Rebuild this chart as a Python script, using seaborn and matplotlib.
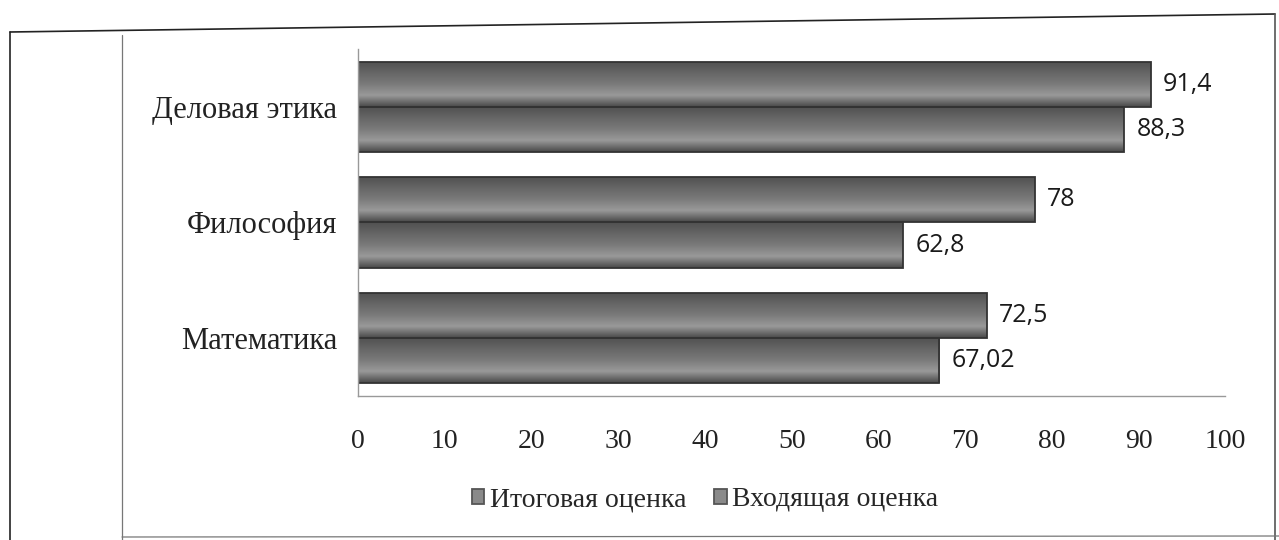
import matplotlib
matplotlib.use("Agg")
import matplotlib.pyplot as plt
import seaborn as sns
import pandas as pd
import numpy as np
from matplotlib.lines import Line2D
from matplotlib.colors import LinearSegmentedColormap

subjects = ["Деловая этика", "Философия", "Математика"]
series = ["Итоговая оценка", "Входящая оценка"]
final_scores = [91.4, 78, 72.5]
entry_scores = [88.3, 62.8, 67.02]
x_ticks = [0, 10, 20, 30, 40, 50, 60, 70, 80, 90, 100]

df = pd.DataFrame({
    "subject": subjects * 2,
    "series": [series[0]] * 3 + [series[1]] * 3,
    "score": final_scores + entry_scores,
})

sns.set_style("white")
plt.rcParams["font.family"] = ["Liberation Serif", "DejaVu Serif"]

fig = plt.figure(figsize=(12.79, 5.4), dpi=100)
ax = fig.add_axes([0.280, 0.267, 0.678, 0.642])

sns.barplot(data=df, y="subject", x="score", hue="series", order=subjects,
            hue_order=series, orient="h", palette=["#6a6a6a", "#707070"],
            edgecolor="#333333", linewidth=1.3, width=0.78, ax=ax)

# cylinder-like shading on each bar, clipped to the bar itself
shade = LinearSegmentedColormap.from_list(
    "shade", ["#4a4a4a", "#9a9a9a", "#7a7a7a", "#666666", "#505050"])
grad = np.linspace(0, 1, 64).reshape(-1, 1)
for bar in list(ax.patches):
    x0, y0 = bar.get_x(), bar.get_y()
    w, h = bar.get_width(), bar.get_height()
    if w <= 0:
        continue
    im = ax.imshow(grad, cmap=shade, aspect="auto", interpolation="bicubic",
                   extent=[x0, x0 + w, y0, y0 + h], origin="upper", zorder=1.5)
    im.set_clip_path(bar)
    bar.set_facecolor("none")
    bar.set_zorder(2)
ax.set_ylim(2.5, -0.5)

# data labels, comma decimals
for cont in ax.containers:
    labels = [f"{v:g}".replace(".", ",") for v in cont.datavalues]
    ax.bar_label(cont, labels=labels, padding=9, fontsize=18,
                 family=["Open Sans", "DejaVu Sans"], color="#1a1a1a")

ax.set_xlim(0, 100)
ax.set_xticks(x_ticks)
ax.set_xticklabels([str(t) for t in x_ticks], fontsize=20, color="#222222")
ax.tick_params(axis="x", length=0, pad=24)
ax.tick_params(axis="y", length=0, pad=15, labelsize=22, labelcolor="#222222")
ax.set_xlabel("")
ax.set_ylabel("")
for s in ["top", "right"]:
    ax.spines[s].set_visible(False)
for s in ["left", "bottom"]:
    ax.spines[s].set_color("#999999")
    ax.spines[s].set_linewidth(1.0)

handles, lbls = ax.get_legend_handles_labels()
leg = ax.legend(handles, lbls, loc="center", bbox_to_anchor=(0.40, -0.30),
                ncol=2, frameon=False, fontsize=20, handlelength=0.45,
                handleheight=0.45, handletextpad=0.2, columnspacing=1.0)
for hnd in leg.legend_handles:
    hnd.set_facecolor("#8a8a8a")
    hnd.set_edgecolor("#555555")

# scanned page frame
W, H = 1279, 540
def fl(x0, y0, x1, y1, lw=1.2, c="#222222"):
    fig.add_artist(Line2D([x0 / W, x1 / W], [1 - y0 / H, 1 - y1 / H],
                          transform=fig.transFigure, color=c, lw=lw))
fl(10, 32, 1275, 14)
fl(10, 32, 10, 540)
fl(1275, 14, 1275, 540, c="#555555")
fl(122, 35, 122, 540, lw=0.9, c="#777777")
fl(122, 537, 1279, 536, lw=0.9, c="#777777")

fig.savefig("out.png", dpi=100)
